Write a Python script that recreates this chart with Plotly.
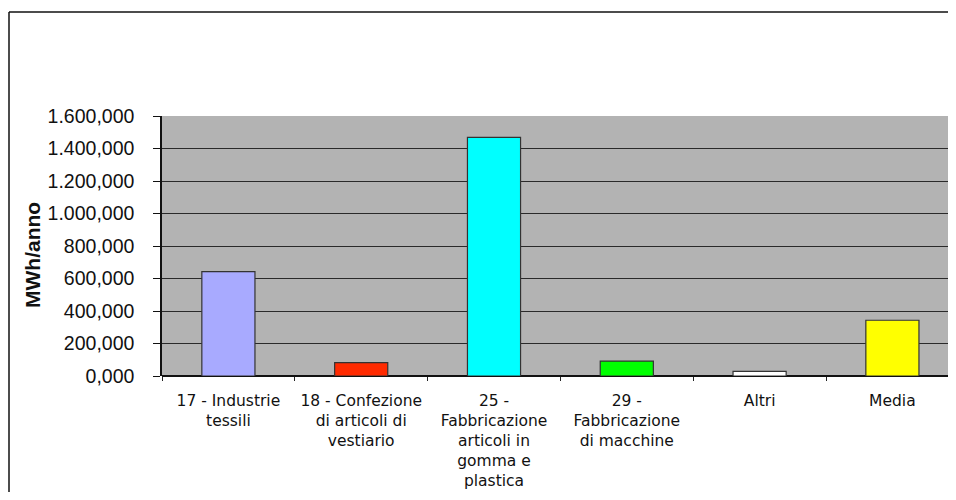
import plotly.graph_objects as go

# categories (NACE sectors) and annual consumption, MWh/anno
categories = [
    "17 - Industrie<br>tessili",
    "18 - Confezione<br>di articoli di<br>vestiario",
    "25 -<br>Fabbricazione<br>articoli in<br>gomma e<br>plastica",
    "29 -<br>Fabbricazione<br>di macchine",
    "Altri",
    "Media",
]
consumi = [642, 82, 1469, 92, 29, 343]
colori = ["#A8AAFF", "#FF2A00", "#00FFFF", "#00FF00", "#FFFFFF", "#FFFF00"]

y_ticks = [0, 200, 400, 600, 800, 1000, 1200, 1400, 1600]

# page body has an 8px margin, so the figure is sized to fit inside the window
W, H = 940, 484
L, T, B = 154, 108, 116
cat_w = 132.8  # px per category in the original (plot runs past the right edge)
plot_w = W - L
x_hi = -0.5 + plot_w / cat_w

fig = go.Figure()
fig.add_trace(go.Bar(
    x=categories, y=consumi,
    marker=dict(color=colori, line=dict(color="#333333", width=1.2)),
    width=0.4, hoverinfo="y", showlegend=False,
))

fig.update_layout(
    width=W, height=H,
    margin=dict(l=L, r=0, t=T, b=B, autoexpand=False),
    paper_bgcolor="white", plot_bgcolor="#B3B3B3",
    separators=",.",
    font=dict(family="Liberation Sans, Arial, sans-serif", color="#111111"),
)

fig.update_xaxes(
    type="category", range=[-0.5, x_hi],
    tickfont=dict(family="DejaVu Sans, sans-serif", size=15.5, color="#111111"),
    tickson="boundaries", ticks="outside", ticklen=4, tickcolor="#222222",
    showgrid=False, zeroline=False, showline=False,
    ticklabelstandoff=13, automargin=False,
)

fig.update_yaxes(
    range=[0, 1600], tickvals=y_ticks, tickformat=",.3f",
    tickfont=dict(size=19.5, color="#111111"),
    ticks="outside", ticklen=7, tickcolor="#111111", tickwidth=1,
    ticklabelstandoff=15,
    showgrid=True, gridcolor="#2a2a2a", gridwidth=1.2,
    showline=True, linecolor="#111111", linewidth=1.5,
    zeroline=True, zerolinecolor="#111111", zerolinewidth=1.5,
    automargin=False,
)

# y-axis title, placed like the original (slightly below the plot's centre)
fig.add_annotation(text="<b>MWh/anno</b>", textangle=-90,
                   xref="paper", yref="paper", x=(24 - L) / plot_w, y=0.5,
                   xanchor="center", yanchor="middle", yshift=-9,
                   showarrow=False, font=dict(size=21, color="#111111"))

# outer chart frame: only the left and top edges show in the original
frame_x0 = (1 - L) / plot_w
frame_y1 = 1 + (T - 4) / (H - T - B)
fig.add_shape(type="line", xref="paper", yref="paper",
              x0=frame_x0, x1=frame_x0, y0=-1.0, y1=frame_y1,
              line=dict(color="#111111", width=1.5), layer="below")
fig.add_shape(type="line", xref="paper", yref="paper",
              x0=frame_x0, x1=1.0, y0=frame_y1, y1=frame_y1,
              line=dict(color="#111111", width=1.5), layer="below")

fig.write_html("out.html")
